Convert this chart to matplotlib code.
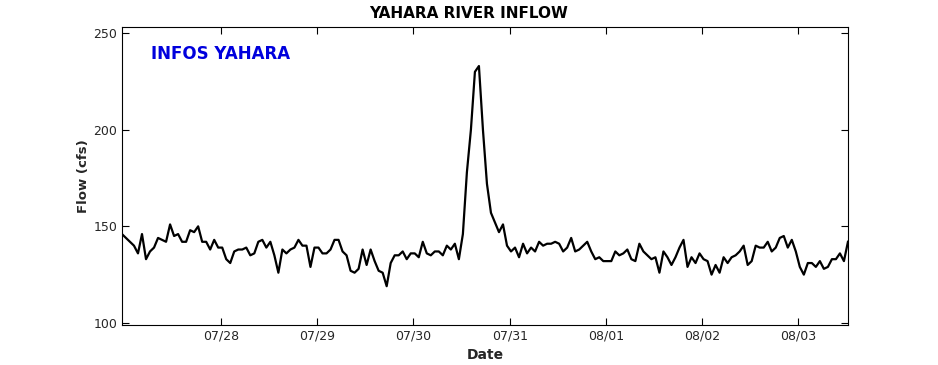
import matplotlib
matplotlib.use("Agg")
import matplotlib.pyplot as plt
import matplotlib.dates as mdates
import pandas as pd

# hourly inflow readings
flow = [146, 144, 142, 140, 136, 146, 133, 137, 139, 144, 143, 142, 151, 145, 146, 142,
        142, 148, 147, 150, 142, 142, 138, 143, 139, 139, 133, 131, 137, 138, 138, 139,
        135, 136, 142, 143, 139, 142, 135, 126, 138, 136, 138, 139, 143, 140, 140, 129,
        139, 139, 136, 136, 138, 143, 143, 137, 135, 127, 126, 128, 138, 130, 138, 132,
        127, 126, 119, 131, 135, 135, 137, 133, 136, 136, 134, 142, 136, 135, 137, 137,
        135, 140, 138, 141, 133, 146, 178, 200, 230, 233, 200, 172, 157, 152, 147, 151,
        140, 137, 139, 134, 141, 136, 139, 137, 142, 140, 141, 141, 142, 141, 137, 139,
        144, 137, 138, 140, 142, 137, 133, 134, 132, 132, 132, 137, 135, 136, 138, 133,
        132, 141, 137, 135, 133, 134, 126, 137, 134, 130, 134, 139, 143, 129, 134, 131,
        136, 133, 132, 125, 130, 126, 134, 131, 134, 135, 137, 140, 130, 132, 140, 139,
        139, 142, 137, 139, 144, 145, 139, 143, 137, 129, 125, 131, 131, 129, 132, 128,
        129, 133, 133, 136, 132, 142]
times = pd.date_range("2023-07-26 23:20", periods=len(flow), freq="h")
tick_days = pd.date_range("2023-07-28", "2023-08-03", freq="D")

fig = plt.figure(figsize=(9.38, 3.65), dpi=100)
ax = fig.add_axes([0.130, 0.110, 0.774, 0.816])
ax.plot(times, flow, color="black", lw=1.6)

ax.set_xlim(times[0], times[-1])
ax.set_ylim(99, 253.2)
ax.set_yticks([100, 150, 200, 250])
ax.set_xticks(tick_days)
ax.xaxis.set_major_formatter(mdates.DateFormatter("%m/%d"))
ax.tick_params(direction="in", length=5, top=True, right=True, labelsize=9,
               labelcolor="#262626", width=0.8)
for s in ax.spines.values():
    s.set_linewidth(0.8)

fig.text(0.5, 0.962, "YAHARA RIVER INFLOW", ha="center", va="center",
         fontsize=11, fontweight="bold")
ax.set_xlabel("Date", fontsize=10, fontweight="bold", color="#262626", labelpad=4)
ax.set_ylabel("Flow (cfs)", fontsize=9.5, fontweight="bold", color="#262626", labelpad=2)
ax.text(0.04, 0.91, "INFOS YAHARA", transform=ax.transAxes, color="#0000dd",
        fontsize=12, fontweight="bold", va="center")

fig.savefig("out.png", dpi=100)
